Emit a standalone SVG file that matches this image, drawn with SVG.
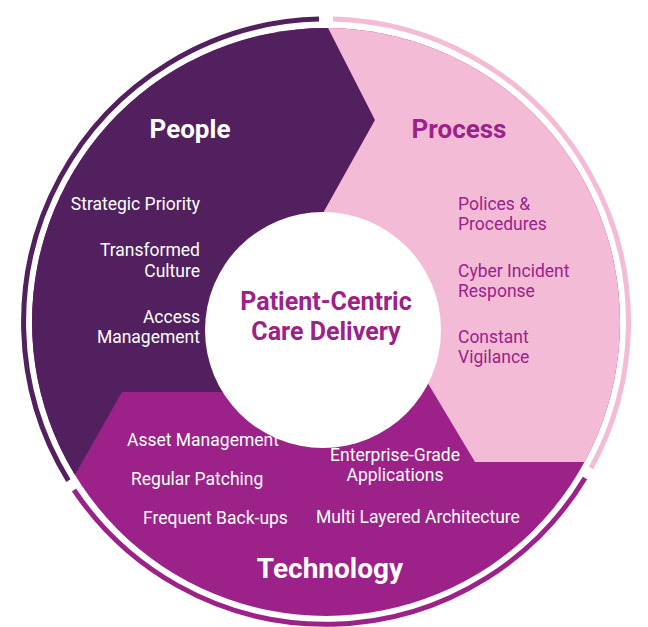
<svg xmlns="http://www.w3.org/2000/svg" width="648" height="627" viewBox="0 0 648 627">
<style>
.t{font-family:Roboto,"Liberation Sans",sans-serif;font-size:17.5px;fill:#fff}
.p{fill:#9C2189}
.h{font-family:Roboto,"Liberation Sans",sans-serif;font-weight:bold}
.ring{fill:none;stroke-width:5}
</style>
<defs><clipPath id="disc"><circle cx="326" cy="322" r="294"/></clipPath></defs>
<rect width="648" height="627" fill="#fff"/>
<g id="rings">
<path class="ring" stroke="#52205E" d="M 319 19.1 A 303 303 0 0 0 68.4 480.6"/>
<path class="ring" stroke="#F4BBD6" d="M 333 19.1 A 303 303 0 0 1 591 468"/>
<path class="ring" stroke="#9C2189" d="M 585 478 A 303 303 0 0 1 74 490"/>
</g>
<g clip-path="url(#disc)">
<rect width="648" height="627" fill="#9C2189"/>
<g id="people"><path fill="#52205E" d="M0 0 L325 0 L325 22 L375 120 L322 215 L322 392 L122 392 L72 480 L0 500 Z"/></g>
<g id="process"><path fill="#F4BBD6" d="M325 0 L648 0 L648 462 L475 462 L420 370 L322 215 L375 120 L325 22 Z"/></g>
</g>
<g id="center"><circle cx="323" cy="330" r="118" fill="#fff"/>
<text class="h p" x="326" y="310" text-anchor="middle" font-size="25">Patient-Centric</text>
<text class="h p" x="326" y="340" text-anchor="middle" font-size="25">Care Delivery</text></g>
<g id="people-text">
<text class="h" x="190" y="138" text-anchor="middle" fill="#fff" font-size="26">People</text>
<g class="t" text-anchor="end">
<text x="200" y="210">Strategic Priority</text>
<text x="200" y="256">Transformed</text><text x="200" y="277">Culture</text>
<text x="200" y="323">Access</text><text x="200" y="343">Management</text></g></g>
<g id="process-text">
<text class="h p" x="459" y="138" text-anchor="middle" font-size="26">Process</text>
<g class="t" style="fill:#9C2189">
<text x="458" y="210">Polices &amp;</text><text x="458" y="230">Procedures</text>
<text x="458" y="277">Cyber Incident</text><text x="458" y="297">Response</text>
<text x="458" y="343">Constant</text><text x="458" y="363">Vigilance</text></g></g>
<g id="technology-text">
<text class="h" x="330" y="578" text-anchor="middle" fill="#fff" font-size="28">Technology</text>
<g class="t">
<text x="127" y="446">Asset Management</text>
<text x="131" y="485">Regular Patching</text>
<text x="143" y="524">Frequent Back-ups</text>
<text x="395" y="461" text-anchor="middle">Enterprise-Grade</text>
<text x="395" y="481" text-anchor="middle">Applications</text>
<text x="316" y="523">Multi Layered Architecture</text></g></g>
</svg>
